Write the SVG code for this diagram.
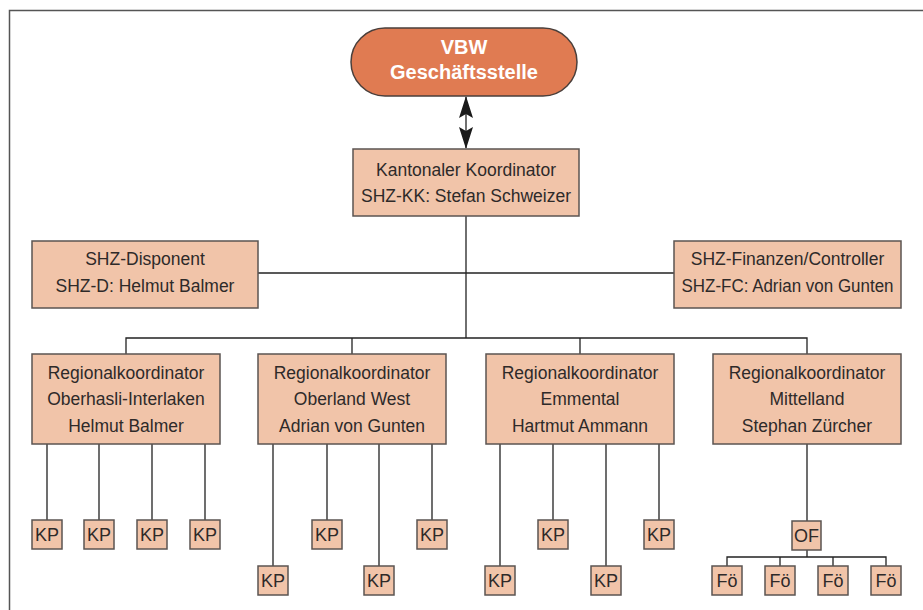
<svg xmlns="http://www.w3.org/2000/svg" width="923" height="610" viewBox="0 0 923 610">
<defs>
<style>
.box{fill:#f1c4a9;stroke:#5b5452;stroke-width:1.5}
.t{font-family:"Liberation Sans",Arial,sans-serif;font-size:17.5px;fill:#2e2a29;text-anchor:middle}
.s{font-family:"Liberation Sans",Arial,sans-serif;font-size:18px;fill:#2e2a29;text-anchor:middle}
.w{font-family:"Liberation Sans",Arial,sans-serif;font-size:20px;font-weight:bold;fill:#ffffff;text-anchor:middle}
.ln{fill:none;stroke:#222;stroke-width:1.3}
</style>
<marker id="ah" viewBox="0 0 22 14" refX="21" refY="7" markerWidth="22" markerHeight="14" markerUnits="userSpaceOnUse" orient="auto-start-reverse">
<path d="M0,0 L22,7 L0,14 L4,7 Z" fill="#1a1a1a"/>
</marker>
</defs>
<rect width="923" height="610" fill="#fff"/>
<path d="M9.5,610 V10.5 H923" fill="none" stroke="#555" stroke-width="1.5"/>

<g id="connectors">
<line class="ln" x1="466" y1="97" x2="466" y2="148" stroke-width="2" marker-start="url(#ah)" marker-end="url(#ah)"/>
<path class="ln" d="M466,216 V338"/>
<path class="ln" d="M258,273 H674"/>
<path class="ln" d="M126,354 V338 H807 V354"/>
<path class="ln" d="M352,338 V354 M580,338 V354"/>
<path class="ln" d="M47,444 V520 M99,444 V520 M152,444 V520 M205,444 V520"/>
<path class="ln" d="M273,444 V566 M327,444 V520 M379,444 V566 M432,444 V520"/>
<path class="ln" d="M500,444 V566 M553,444 V520 M606,444 V566 M659,444 V520"/>
<path class="ln" d="M807,444 V521 M807,550 V557 M727,566 V557 H886 V566 M780,557 V566 M833,557 V566"/>
</g>

<g id="vbw">
<rect x="351" y="28" width="226" height="68" rx="34" fill="#e07b52" stroke="#4a3f3b" stroke-width="1.5"/>
<text class="w" x="464" y="54">VBW</text>
<text class="w" x="464" y="79">Geschäftsstelle</text>
</g>

<g id="kk">
<rect class="box" x="353" y="149" width="226" height="67"/>
<text class="t" x="466" y="176">Kantonaler Koordinator</text>
<text class="t" x="466" y="202">SHZ-KK: Stefan Schweizer</text>
</g>

<g id="disponent">
<rect class="box" x="32" y="241" width="226" height="67"/>
<text class="t" x="145" y="265">SHZ-Disponent</text>
<text class="t" x="145" y="292">SHZ-D: Helmut Balmer</text>
</g>

<g id="finanzen">
<rect class="box" x="674" y="241" width="227" height="67"/>
<text class="t" x="787.5" y="265">SHZ-Finanzen/Controller</text>
<text class="t" x="787.5" y="292" textLength="212" lengthAdjust="spacingAndGlyphs">SHZ-FC: Adrian von Gunten</text>
</g>

<g id="rk1">
<rect class="box" x="32" y="354" width="188" height="90"/>
<text class="t" x="126" y="379">Regionalkoordinator</text>
<text class="t" x="126" y="405">Oberhasli-Interlaken</text>
<text class="t" x="126" y="432">Helmut Balmer</text>
</g>
<g id="rk2">
<rect class="box" x="258" y="354" width="188" height="90"/>
<text class="t" x="352" y="379">Regionalkoordinator</text>
<text class="t" x="352" y="405">Oberland West</text>
<text class="t" x="352" y="432">Adrian von Gunten</text>
</g>
<g id="rk3">
<rect class="box" x="486" y="354" width="188" height="90"/>
<text class="t" x="580" y="379">Regionalkoordinator</text>
<text class="t" x="580" y="405">Emmental</text>
<text class="t" x="580" y="432">Hartmut Ammann</text>
</g>
<g id="rk4">
<rect class="box" x="713" y="354" width="188" height="90"/>
<text class="t" x="807" y="379">Regionalkoordinator</text>
<text class="t" x="807" y="405">Mittelland</text>
<text class="t" x="807" y="432">Stephan Zürcher</text>
</g>

<g id="kp1a"><rect class="box" x="32" y="520" width="30" height="29"/><text class="s" x="47" y="541">KP</text></g>
<g id="kp1b"><rect class="box" x="84" y="520" width="30" height="29"/><text class="s" x="99" y="541">KP</text></g>
<g id="kp1c"><rect class="box" x="137" y="520" width="30" height="29"/><text class="s" x="152" y="541">KP</text></g>
<g id="kp1d"><rect class="box" x="190" y="520" width="30" height="29"/><text class="s" x="205" y="541">KP</text></g>

<g id="kp2a"><rect class="box" x="258" y="566" width="30" height="29"/><text class="s" x="273" y="587">KP</text></g>
<g id="kp2b"><rect class="box" x="312" y="520" width="30" height="29"/><text class="s" x="327" y="541">KP</text></g>
<g id="kp2c"><rect class="box" x="364" y="566" width="30" height="29"/><text class="s" x="379" y="587">KP</text></g>
<g id="kp2d"><rect class="box" x="417" y="520" width="30" height="29"/><text class="s" x="432" y="541">KP</text></g>

<g id="kp3a"><rect class="box" x="485" y="566" width="30" height="29"/><text class="s" x="500" y="587">KP</text></g>
<g id="kp3b"><rect class="box" x="538" y="520" width="30" height="29"/><text class="s" x="553" y="541">KP</text></g>
<g id="kp3c"><rect class="box" x="591" y="566" width="30" height="29"/><text class="s" x="606" y="587">KP</text></g>
<g id="kp3d"><rect class="box" x="644" y="520" width="30" height="29"/><text class="s" x="659" y="541">KP</text></g>

<g id="of"><rect class="box" x="792" y="521" width="29" height="29"/><text class="s" x="806.5" y="542">OF</text></g>
<g id="fo1"><rect class="box" x="712" y="566" width="30" height="29"/><text class="s" x="727" y="587">Fö</text></g>
<g id="fo2"><rect class="box" x="765" y="566" width="30" height="29"/><text class="s" x="780" y="587">Fö</text></g>
<g id="fo3"><rect class="box" x="818" y="566" width="30" height="29"/><text class="s" x="833" y="587">Fö</text></g>
<g id="fo4"><rect class="box" x="871" y="566" width="30" height="29"/><text class="s" x="886" y="587">Fö</text></g>
</svg>
